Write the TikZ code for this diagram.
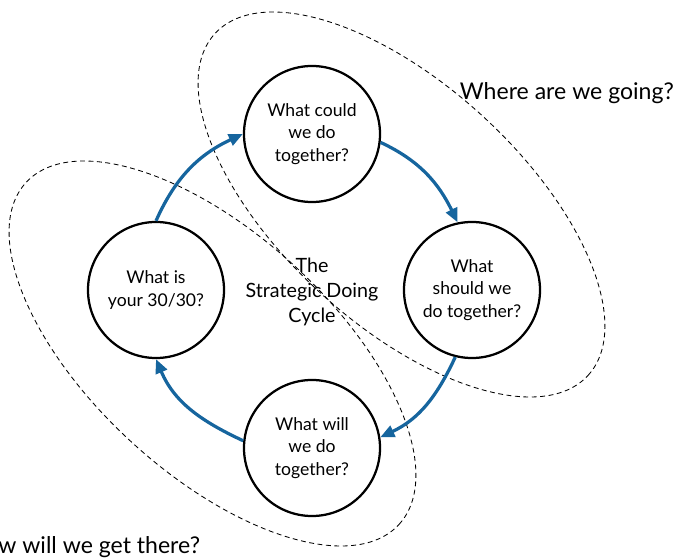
\documentclass[tikz,border=0pt]{standalone}
\usepackage{fontspec}
\setmainfont{Lato}
\usetikzlibrary{arrows.meta}
\definecolor{cycleblue}{RGB}{22,101,158}
\tikzset{
	stage/.style={circle,draw,line width=1.6pt,fill=white,minimum size=3.4cm,inner sep=0pt,align=center,font=\fontsize{12.5}{16}\selectfont},
	flow/.style={draw=cycleblue,line width=2.3pt,-{Triangle[length=10pt,width=8.5pt]}},
	halo/.style={dash pattern=on 3.5pt off 2.5pt,line width=0.6pt},
	question/.style={font=\fontsize{16.4}{20}\selectfont}
}
\begin{document}
\begin{tikzpicture}[x=0.025cm,y=0.025cm]
	\useasboundingbox (0,0) rectangle (673,560);
	\draw[halo,rotate around={-42.5:(401.5,355.5)}] (401.5,355.5) ellipse [x radius=253,y radius=120];
	\draw[halo,rotate around={-42.5:(212.5,206.5)}] (212.5,206.5) ellipse [x radius=253,y radius=120];
	\node[stage] (could) at (312,426) {What could\\we do\\together?};
	\node[stage] (should) at (472,270) {What\\should we\\do together?};
	\node[stage] (will) at (312,112) {What will\\we do\\together?};
	\node[stage] (thirty) at (156,270) {What is\\your 30/30?};
	\node[align=center,font=\fontsize{14}{17.5}\selectfont] (cycle) at (312,268) {The\\Strategic Doing\\Cycle};
	\node[question,anchor=base west] (going) at (455,460) {Where are we going?};
	\node[question,anchor=base east] (there) at (205,6) {How will we get there?};
	\draw[flow] (thirty.north) to[out=66,in=205] (could.west);
	\draw[flow] (could.-7) to[out=-25,in=116] (should.102);
	\draw[flow] (should.-104) to[out=-115,in=25] (will.9);
	\draw[flow] (will.174) to[out=155,in=-67] (thirty.south);
\end{tikzpicture}
\end{document}
